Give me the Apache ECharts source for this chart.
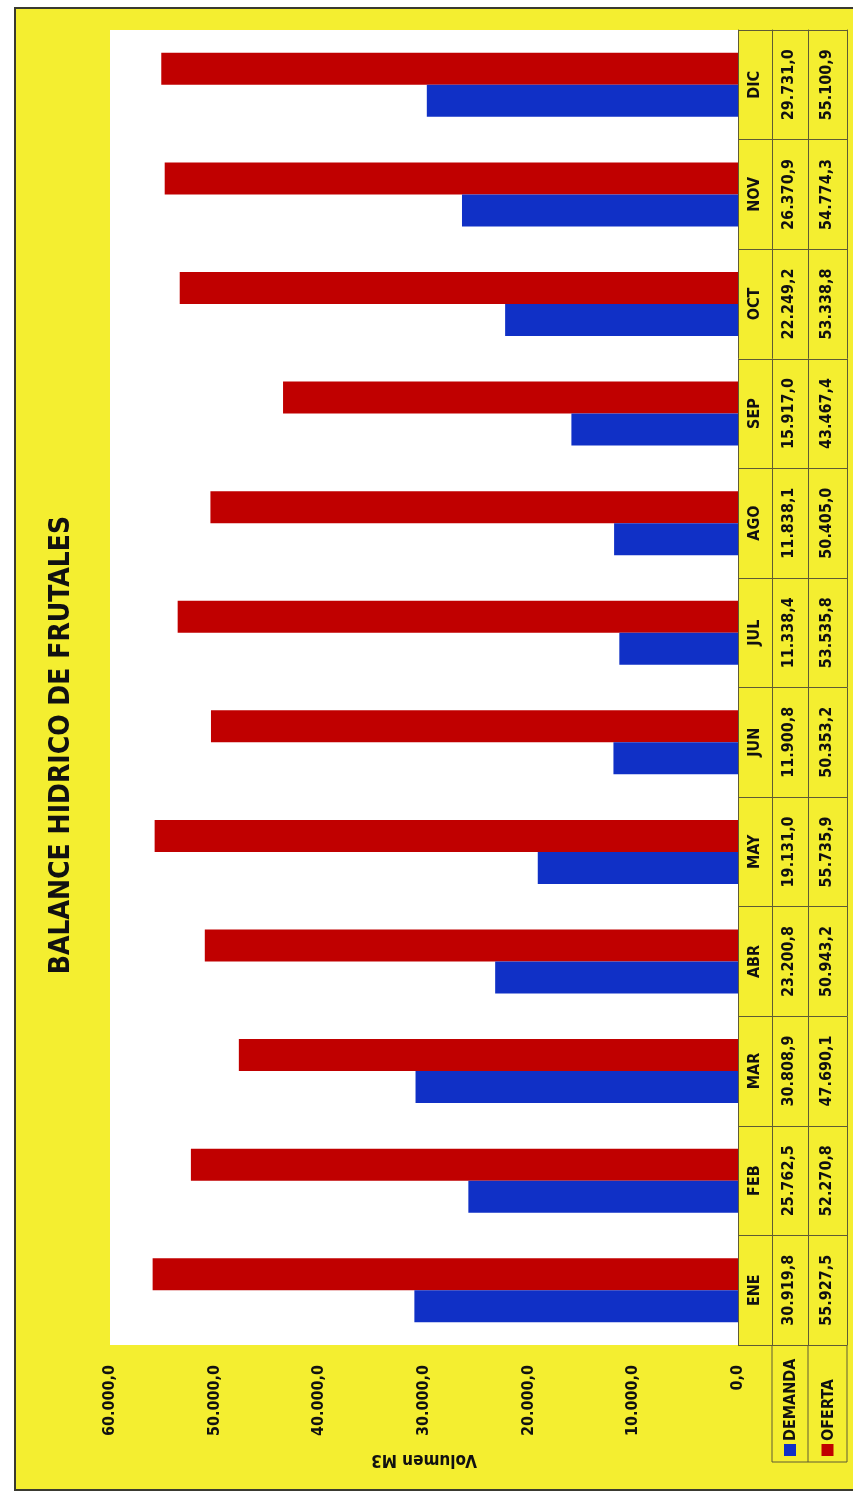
<!DOCTYPE html>
<html>
<head>
<meta charset="utf-8">
<script src="https://cdn.jsdelivr.net/npm/echarts@6/dist/echarts.min.js"></script>
<style>
html,body{margin:0;padding:0;background:#fff;}
#chart{width:853px;height:1497px;}
</style>
</head>
<body>
<div id="chart"></div>
<script>
// ---- data ----
const months = ['ENE','FEB','MAR','ABR','MAY','JUN','JUL','AGO','SEP','OCT','NOV','DIC'];
const demanda = [30919.8, 25762.5, 30808.9, 23200.8, 19131.0, 11900.8, 11338.4, 11838.1, 15917.0, 22249.2, 26370.9, 29731.0];
const oferta  = [55927.5, 52270.8, 47690.1, 50943.2, 55735.9, 50353.2, 53535.8, 50405.0, 43467.4, 53338.8, 54774.3, 55100.9];
const seriesNames = ['DEMANDA', 'OFERTA'];
const titleText = 'BALANCE HIDRICO DE FRUTALES';
const axisTitle = 'Volumen M3';
const axisMin = 0, axisMax = 60000, axisStep = 10000;

// ---- styles ----
const FONT = '"DejaVu Sans Condensed", "Liberation Sans", sans-serif';
const YELLOW = '#f4ee30';
const RED = '#c00000';
const BLUE = '#1030c6';
const LINE = '#5e5b34';
const colors = [BLUE, RED];

function fmt(v) {
  const parts = Number(v).toFixed(1).split('.');
  return parts[0].replace(/\B(?=(\d{3})+(?!\d))/g, '.') + ',' + parts[1];
}

const GRID = {left: 110, right: 115, top: 30, bottom: 152};
const chart = echarts.init(document.getElementById('chart'), null, {renderer: 'canvas'});

const labelBase = {fontFamily: FONT, fontWeight: 'bold', fontSize: 16, color: '#111', rotate: 90};
const valueCols = [null, demanda, oferta];

const yAxes = [0, 34, 70, 109].map((off, i) => ({
  type: 'category',
  data: months,
  position: 'right',
  offset: off,
  gridIndex: 0,
  axisLine: {show: true, lineStyle: {color: LINE, width: 1}},
  axisTick: {show: i === 0, length: 109, lineStyle: {color: LINE, width: 1}},
  splitLine: {show: false},
  axisLabel: i === 3 ? {show: false} : Object.assign({}, labelBase, {
    margin: i === 2 ? 11 : 9,
    interval: 0,
    formatter: (val, idx) => i === 0 ? val : fmt(valueCols[i][idx])
  })
}));

const graphics = [
  {type: 'rect', z: -5, silent: true, shape: {x: 15, y: 8, width: 860, height: 1482},
   style: {fill: YELLOW, stroke: '#3a3a30', lineWidth: 2}},
  {type: 'text', x: 62, y: 745, rotation: Math.PI / 2, z: 10,
   style: {text: titleText, fontFamily: FONT, fontWeight: 'bold', fontSize: 28, fill: '#111',
           textAlign: 'center', textVerticalAlign: 'middle'}},
  // legend column borders
  {type: 'line', z: 10, shape: {x1: 772, y1: 1345, x2: 772, y2: 1462}, style: {stroke: LINE, lineWidth: 1}},
  {type: 'line', z: 10, shape: {x1: 808, y1: 1345, x2: 808, y2: 1462}, style: {stroke: LINE, lineWidth: 1}},
  {type: 'line', z: 10, shape: {x1: 847, y1: 1345, x2: 847, y2: 1462}, style: {stroke: LINE, lineWidth: 1}},
  {type: 'line', z: 10, shape: {x1: 772, y1: 1462, x2: 847, y2: 1462}, style: {stroke: LINE, lineWidth: 1}}
];
const legendX = [790, 827.5];
seriesNames.forEach((n, i) => {
  graphics.push({type: 'rect', z: 10, shape: {x: legendX[i] - 6, y: 1444, width: 12, height: 12}, style: {fill: colors[i]}});
  graphics.push({type: 'text', z: 10, x: legendX[i] + 1, y: 1441, rotation: Math.PI / 2,
    style: {text: n, fontFamily: FONT, fontWeight: 'bold', fontSize: 16, fill: '#111',
            textAlign: 'left', textVerticalAlign: 'middle'}});
});

chart.setOption({
  backgroundColor: '#ffffff',
  animation: false,
  grid: Object.assign({show: true, backgroundColor: '#ffffff', borderWidth: 0, containLabel: false}, GRID),
  xAxis: {
    type: 'value',
    inverse: true,
    min: axisMin, max: axisMax, interval: axisStep,
    position: 'bottom',
    axisLine: {show: false},
    axisTick: {show: false},
    splitLine: {show: false},
    axisLabel: Object.assign({}, labelBase, {margin: 20, formatter: v => fmt(v)}),
    name: axisTitle,
    nameLocation: 'middle',
    nameRotate: 180,
    nameGap: 106,
    nameTextStyle: {fontFamily: FONT, fontWeight: 'bold', fontSize: 17, color: '#111'}
  },
  yAxis: yAxes,
  series: [
    // OFERTA listed first so it sits above DEMANDA inside each month band
    {name: seriesNames[1], type: 'bar', yAxisIndex: 0, data: oferta, barWidth: 32, barGap: '0%',
     itemStyle: {color: RED}},
    {name: seriesNames[0], type: 'bar', yAxisIndex: 0, data: demanda, barWidth: 32, barGap: '0%',
     itemStyle: {color: BLUE}}
  ],
  graphic: graphics
});
</script>
</body>
</html>
